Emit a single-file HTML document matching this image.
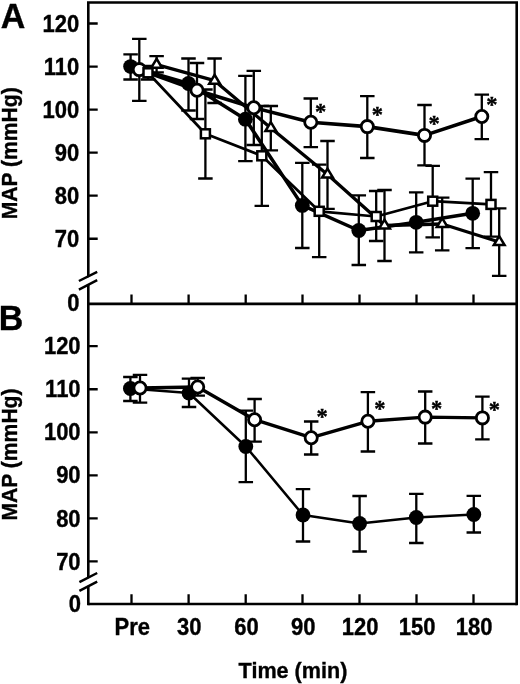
<!DOCTYPE html>
<html lang="en"><head><meta charset="utf-8"><title>MAP over time</title>
<style>
html,body{margin:0;padding:0;background:#fff}
body{width:520px;height:684px;position:relative;overflow:hidden}
</style></head><body>
<svg width="520" height="684" viewBox="0 0 520 684" style="position:absolute;left:0;top:0">
<rect width="520" height="684" fill="#fff"/>
<g fill="none" stroke="#000" stroke-width="2.6">
<path d="M88.3 605.3V2.45H516.7V605.3"/>
<path d="M88.3 303.9H516.7"/>
<path d="M88.3 604H516.7"/>
</g>
<path d="M88.3 23.5H97.7M88.3 346.2H97.7M88.3 66.55H97.7M88.3 389.25H97.7M88.3 109.6H97.7M88.3 432.3H97.7M88.3 152.65H97.7M88.3 475.35H97.7M88.3 195.7H97.7M88.3 518.4H97.7M88.3 238.75H97.7M88.3 561.45H97.7M131.5 303.9V294.5M131.5 604V594.2M188.6 303.9V294.5M188.6 604V594.2M245.7 303.9V294.5M245.7 604V594.2M302.5 303.9V294.5M302.5 604V594.2M359.5 303.9V294.5M359.5 604V594.2M416.5 303.9V294.5M416.5 604V594.2M473.5 303.9V294.5M473.5 604V594.2" fill="none" stroke="#000" stroke-width="2.3"/>
<path d="M84 283.2L93 278.6M84 584.2L93 579.6" fill="none" stroke="#fff" stroke-width="6.5"/>
<path d="M78.9 281L97.2 271.8M78.9 289.6L97.2 280.2M79.4 582.1L97.2 573M79.4 590.8L97.2 581.6" fill="none" stroke="#000" stroke-width="2.5"/>
<path d="M130.6 54.3V79.5M123.35 54.3H137.85M123.35 79.5H137.85M188.5 58.5V110.5M181.25 58.5H195.75M181.25 110.5H195.75M245.4 75.8V161.2M238.15 75.8H252.65M238.15 161.2H252.65M302.3 162.8V248M295.05 162.8H309.55M295.05 248H309.55M358.8 195.4V265M351.55 195.4H366.05M351.55 265H366.05M416.2 192.3V252.3M408.95 192.3H423.45M408.95 252.3H423.45M472.7 178.7V248.2M465.45 178.7H479.95M465.45 248.2H479.95" fill="none" stroke="#000" stroke-width="2.3"/>
<path d="M139.3 38.9V100.8M132.05 38.9H146.55M132.05 100.8H146.55M197 63V119M189.75 63H204.25M189.75 119H204.25M253.8 70.8V145M246.55 70.8H261.05M246.55 145H261.05M310.8 98.5V147.2M303.55 98.5H318.05M303.55 147.2H318.05M367.3 96.2V158M360.05 96.2H374.55M360.05 158H374.55M424.5 105V165.4M417.25 105H431.75M417.25 165.4H431.75M481.8 94.6V139.2M474.55 94.6H489.05M474.55 139.2H489.05" fill="none" stroke="#000" stroke-width="2.3"/>
<path d="M148 66V79.5M140.75 66H155.25M140.75 79.5H155.25M205.4 89.5V178.5M198.15 89.5H212.65M198.15 178.5H212.65M261.8 106V205.8M254.55 106H269.05M254.55 205.8H269.05M319.2 164.6V257.2M311.95 164.6H326.45M311.95 257.2H326.45M376.2 191V241M368.95 191H383.45M368.95 241H383.45M432.7 165.8V237.4M425.45 165.8H439.95M425.45 237.4H439.95M491 172.2V236.6M483.75 172.2H498.25M483.75 236.6H498.25" fill="none" stroke="#000" stroke-width="2.3"/>
<path d="M156.6 56.2V72.3M149.35 56.2H163.85M149.35 72.3H163.85M214.6 58.5V103M207.35 58.5H221.85M207.35 103H221.85M270.8 106V150.3M263.55 106H278.05M263.55 150.3H278.05M327.5 141V208.8M320.25 141H334.75M320.25 208.8H334.75M384.5 190V261M377.25 190H391.75M377.25 261H391.75M442.2 197.7V250.3M434.95 197.7H449.45M434.95 250.3H449.45M499.2 208.4V275.8M491.95 208.4H506.45M491.95 275.8H506.45" fill="none" stroke="#000" stroke-width="2.3"/>
<path d="M130.6 66.6 L188.5 83.5 L245.4 119.2 L302.3 205.4 L358.8 230.5 L416.2 222.3 L472.7 213.3" fill="none" stroke="#000" stroke-width="3.5" stroke-linejoin="round"/>
<path d="M139.3 69.6 L197 90.3 L253.8 107.7 L310.8 122.3 L367.3 126.6 L424.5 135.4 L481.8 116.5" fill="none" stroke="#000" stroke-width="3.6" stroke-linejoin="round"/>
<path d="M148 72.8 L205.4 133.8 L261.8 155.8 L319.2 211.3 L376.2 216.5 L432.7 201.2 L491 204.4" fill="none" stroke="#000" stroke-width="2.7" stroke-linejoin="round"/>
<path d="M156.6 64.7 L214.6 80.7 L270.8 128 L327.5 174.5 L384.5 225.5 L442.2 224 L499.2 242" fill="none" stroke="#000" stroke-width="3.3" stroke-linejoin="round"/>
<circle cx="130.6" cy="66.6" r="7.4" fill="#000"/>
<circle cx="188.5" cy="83.5" r="7.4" fill="#000"/>
<circle cx="245.4" cy="119.2" r="7.4" fill="#000"/>
<circle cx="302.3" cy="205.4" r="7.4" fill="#000"/>
<circle cx="358.8" cy="230.5" r="7.4" fill="#000"/>
<circle cx="416.2" cy="222.3" r="7.4" fill="#000"/>
<circle cx="472.7" cy="213.3" r="7.4" fill="#000"/>
<circle cx="139.3" cy="69.6" r="6.1" fill="#fff" stroke="#000" stroke-width="2.8"/>
<circle cx="197" cy="90.3" r="6.1" fill="#fff" stroke="#000" stroke-width="2.8"/>
<circle cx="253.8" cy="107.7" r="6.1" fill="#fff" stroke="#000" stroke-width="2.8"/>
<circle cx="310.8" cy="122.3" r="6.1" fill="#fff" stroke="#000" stroke-width="2.8"/>
<circle cx="367.3" cy="126.6" r="6.1" fill="#fff" stroke="#000" stroke-width="2.8"/>
<circle cx="424.5" cy="135.4" r="6.1" fill="#fff" stroke="#000" stroke-width="2.8"/>
<circle cx="481.8" cy="116.5" r="6.1" fill="#fff" stroke="#000" stroke-width="2.8"/>
<rect x="143.5" y="68.3" width="9" height="9" fill="#fff" stroke="#000" stroke-width="2.5"/>
<rect x="200.9" y="129.3" width="9" height="9" fill="#fff" stroke="#000" stroke-width="2.5"/>
<rect x="257.3" y="151.3" width="9" height="9" fill="#fff" stroke="#000" stroke-width="2.5"/>
<rect x="314.7" y="206.8" width="9" height="9" fill="#fff" stroke="#000" stroke-width="2.5"/>
<rect x="371.7" y="212" width="9" height="9" fill="#fff" stroke="#000" stroke-width="2.5"/>
<rect x="428.2" y="196.7" width="9" height="9" fill="#fff" stroke="#000" stroke-width="2.5"/>
<rect x="486.5" y="199.9" width="9" height="9" fill="#fff" stroke="#000" stroke-width="2.5"/>
<path d="M156.6 58.8L151.2 67.8L162 67.8Z" fill="#fff" stroke="#000" stroke-width="2.5" stroke-linejoin="miter"/>
<path d="M214.6 74.8L209.2 83.8L220 83.8Z" fill="#fff" stroke="#000" stroke-width="2.5" stroke-linejoin="miter"/>
<path d="M270.8 122.1L265.4 131.1L276.2 131.1Z" fill="#fff" stroke="#000" stroke-width="2.5" stroke-linejoin="miter"/>
<path d="M327.5 168.6L322.1 177.6L332.9 177.6Z" fill="#fff" stroke="#000" stroke-width="2.5" stroke-linejoin="miter"/>
<path d="M384.5 219.6L379.1 228.6L389.9 228.6Z" fill="#fff" stroke="#000" stroke-width="2.5" stroke-linejoin="miter"/>
<path d="M442.2 218.1L436.8 227.1L447.6 227.1Z" fill="#fff" stroke="#000" stroke-width="2.5" stroke-linejoin="miter"/>
<path d="M499.2 236.1L493.8 245.1L504.6 245.1Z" fill="#fff" stroke="#000" stroke-width="2.5" stroke-linejoin="miter"/>
<path d="M130.4 377V401M123.15 377H137.65M123.15 401H137.65M189 378.7V407M181.75 378.7H196.25M181.75 407H196.25M245.8 410.7V482.2M238.55 410.7H253.05M238.55 482.2H253.05M303 489.2V541.5M295.75 489.2H310.25M295.75 541.5H310.25M359.6 496V551.5M352.35 496H366.85M352.35 551.5H366.85M416.3 493.8V543M409.05 493.8H423.55M409.05 543H423.55M473.8 495.8V532.5M466.55 495.8H481.05M466.55 532.5H481.05" fill="none" stroke="#000" stroke-width="2.3"/>
<path d="M140 374.8V402.7M132.75 374.8H147.25M132.75 402.7H147.25M197.7 378V395.6M190.45 378H204.95M190.45 395.6H204.95M254.6 399V441.6M247.35 399H261.85M247.35 441.6H261.85M311.2 421.5V454.5M303.95 421.5H318.45M303.95 454.5H318.45M367.9 392.1V451.5M360.65 392.1H375.15M360.65 451.5H375.15M425.2 391.5V443.5M417.95 391.5H432.45M417.95 443.5H432.45M482.4 396.7V439.4M475.15 396.7H489.65M475.15 439.4H489.65" fill="none" stroke="#000" stroke-width="2.3"/>
<path d="M130.4 388.5 L189 393 L245.8 446.5 L303 515 L359.6 523.5 L416.3 517.5 L473.8 514.5" fill="none" stroke="#000" stroke-width="2.5" stroke-linejoin="round"/>
<path d="M140 388 L197.7 387 L254.6 419.7 L311.2 437.7 L367.9 421.3 L425.2 417.1 L482.4 417.9" fill="none" stroke="#000" stroke-width="3.4" stroke-linejoin="round"/>
<circle cx="130.4" cy="388.5" r="7.4" fill="#000"/>
<circle cx="189" cy="393" r="7.4" fill="#000"/>
<circle cx="245.8" cy="446.5" r="7.4" fill="#000"/>
<circle cx="303" cy="515" r="7.4" fill="#000"/>
<circle cx="359.6" cy="523.5" r="7.4" fill="#000"/>
<circle cx="416.3" cy="517.5" r="7.4" fill="#000"/>
<circle cx="473.8" cy="514.5" r="7.4" fill="#000"/>
<circle cx="140" cy="388" r="6.1" fill="#fff" stroke="#000" stroke-width="2.8"/>
<circle cx="197.7" cy="387" r="6.1" fill="#fff" stroke="#000" stroke-width="2.8"/>
<circle cx="254.6" cy="419.7" r="6.1" fill="#fff" stroke="#000" stroke-width="2.8"/>
<circle cx="311.2" cy="437.7" r="6.1" fill="#fff" stroke="#000" stroke-width="2.8"/>
<circle cx="367.9" cy="421.3" r="6.1" fill="#fff" stroke="#000" stroke-width="2.8"/>
<circle cx="425.2" cy="417.1" r="6.1" fill="#fff" stroke="#000" stroke-width="2.8"/>
<circle cx="482.4" cy="417.9" r="6.1" fill="#fff" stroke="#000" stroke-width="2.8"/>
<g font-family="'Liberation Sans', Arial, Helvetica, sans-serif" font-weight="bold" fill="#000" stroke="#000" stroke-width="0.35">
<text transform="translate(79.3 31.6) scale(1 1.06)" font-size="22" text-anchor="end">120</text>
<text transform="translate(80.6 354.3) scale(1 1.06)" font-size="22" text-anchor="end">120</text>
<text transform="translate(79.3 74.65) scale(1 1.06)" font-size="22" text-anchor="end">110</text>
<text transform="translate(80.6 397.35) scale(1 1.06)" font-size="22" text-anchor="end">110</text>
<text transform="translate(79.3 117.7) scale(1 1.06)" font-size="22" text-anchor="end">100</text>
<text transform="translate(80.6 440.4) scale(1 1.06)" font-size="22" text-anchor="end">100</text>
<text transform="translate(79.3 160.75) scale(1 1.06)" font-size="22" text-anchor="end">90</text>
<text transform="translate(80.6 483.45) scale(1 1.06)" font-size="22" text-anchor="end">90</text>
<text transform="translate(79.3 203.8) scale(1 1.06)" font-size="22" text-anchor="end">80</text>
<text transform="translate(80.6 526.5) scale(1 1.06)" font-size="22" text-anchor="end">80</text>
<text transform="translate(79.3 246.85) scale(1 1.06)" font-size="22" text-anchor="end">70</text>
<text transform="translate(80.6 569.55) scale(1 1.06)" font-size="22" text-anchor="end">70</text>
<text transform="translate(79.5 310.9) scale(1 1.06)" font-size="22" text-anchor="end">0</text>
<text transform="translate(80.9 611.5) scale(1 1.06)" font-size="22" text-anchor="end">0</text>
<text transform="translate(132.2 635.3) scale(1 1.06)" font-size="22" text-anchor="middle">Pre</text>
<text transform="translate(189.3 635.3) scale(1 1.06)" font-size="22" text-anchor="middle">30</text>
<text transform="translate(246.4 635.3) scale(1 1.06)" font-size="22" text-anchor="middle">60</text>
<text transform="translate(303.2 635.3) scale(1 1.06)" font-size="22" text-anchor="middle">90</text>
<text transform="translate(360.2 635.3) scale(1 1.06)" font-size="22" text-anchor="middle">120</text>
<text transform="translate(417.2 635.3) scale(1 1.06)" font-size="22" text-anchor="middle">150</text>
<text transform="translate(474.2 635.3) scale(1 1.06)" font-size="22" text-anchor="middle">180</text>
<text transform="translate(293 678) scale(1 1.06)" font-size="21.6" text-anchor="middle">Time (min)</text>
<text transform="translate(17.1 153.3) rotate(-90) scale(1 1.06)" font-size="21.1" text-anchor="middle">MAP (mmHg)</text>
<text transform="translate(17.1 454.5) rotate(-90) scale(1 1.06)" font-size="21.1" text-anchor="middle">MAP (mmHg)</text>
<text transform="translate(0.8 27.7) scale(1 1.04)" font-size="34">A</text>
<text transform="translate(-1.3 329.8) scale(1 1.04)" font-size="34">B</text>
</g>
<g font-family="'Liberation Serif', 'Times New Roman', serif" font-weight="bold" fill="#000" stroke="#000" stroke-width="0.4" font-size="22.5" text-anchor="middle">
<text x="320.5" y="118.6">*</text>
<text x="377.3" y="122.1">*</text>
<text x="434.2" y="130.9">*</text>
<text x="491.8" y="112.1">*</text>
<text x="322.2" y="423.6">*</text>
<text x="379.8" y="416.1">*</text>
<text x="436.5" y="416.1">*</text>
<text x="494.4" y="417.4">*</text>
</g>
</svg>
</body></html>
